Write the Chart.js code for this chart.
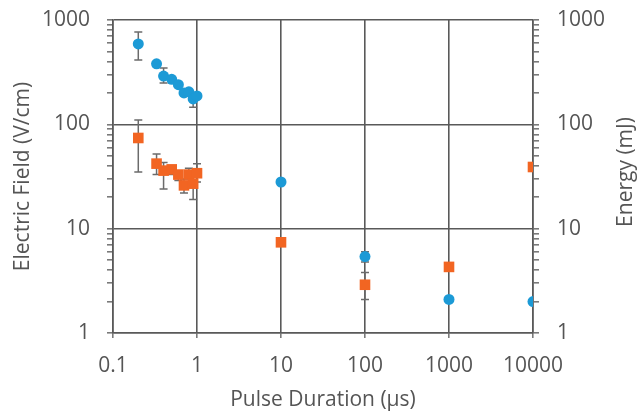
<!DOCTYPE html>
<html>
<head>
<meta charset="utf-8">
<script src="https://cdn.jsdelivr.net/npm/chart.js@4.4.0/dist/chart.umd.min.js"></script>
<style>
  html, body { margin: 0; padding: 0; background: #fff; }
  #wrap { width: 639px; height: 415px; }
</style>
</head>
<body>
<div id="wrap"><canvas id="chart" width="639" height="415"></canvas></div>
<script>
// ---- Data ----
const pulseUs    = [0.2, 0.33, 0.4, 0.5, 0.6, 0.7, 0.8, 0.9, 1, 10, 100, 1000, 10000];
const fieldVcm   = [590, 380, 290, 270, 240, 200, 205, 175, 187, 28, 5.4, 2.1, 2.0];
const fieldLow   = [414, null, 249, null, null, null, null, 146, null, null, 4.8, null, null];
const fieldHigh  = [769, null, 347, null, null, null, null, 200, null, null, 6.0, null, null];
const energyMJ   = [74, 42, 36, 37, 33, 26, 33, 27, 34, 7.4, 2.9, 4.3, 39];
const energyLow  = [35, 33, 24, 33, 29, 22, 27, 19, 28, null, 2.1, null, null];
const energyHigh = [110, 52, 43, 40, 36, 30, 38, 33, 42, null, 3.8, null, null];
const xTicks = [0.1, 1, 10, 100, 1000, 10000];

// ---- Styles ----
const TEXT = '#555555';
const GRID = '#595959';
const BLUE = '#1c9ad6';
const ORANGE = '#f26522';
const FONT = "'Open Sans', sans-serif";
const FS = 21;

const isDecade = (v) => Math.abs(Math.log10(v) - Math.round(Math.log10(v))) < 1e-6;

// log ticks 1..9 per decade, labels only on decades
function yTickList() {
    const out = [];
    for (let d = 0; d < 3; d++) {
        for (let m = 1; m < 10; m++) out.push({ value: m * Math.pow(10, d) });
    }
    out.push({ value: 1000 });
    return out;
}

const toPoints = (ys) => pulseUs.map((x, i) => ({ x, y: ys[i] }));

// ---- Error bars drawn under the markers ----
const errorBars = {
    id: 'errorBars',
    beforeDatasetsDraw(chart) {
        const { ctx } = chart;
        const xs = chart.scales.x;
        chart.data.datasets.forEach(ds => {
            const ys = chart.scales[ds.yAxisID];
            ctx.save();
            ctx.strokeStyle = '#6b6b6b';
            ctx.lineWidth = 1.5;
            ds.errLow.forEach((lo, i) => {
                const hi = ds.errHigh[i];
                if (lo == null || hi == null) return;
                const px = xs.getPixelForValue(pulseUs[i]);
                const p1 = ys.getPixelForValue(lo);
                const p2 = ys.getPixelForValue(hi);
                ctx.beginPath();
                ctx.moveTo(px, p1); ctx.lineTo(px, p2);
                ctx.moveTo(px - 4, p1); ctx.lineTo(px + 4, p1);
                ctx.moveTo(px - 4, p2); ctx.lineTo(px + 4, p2);
                ctx.stroke();
            });
            ctx.restore();
        });
    },
};

// ---- Right axis title (reads bottom to top, like the left one) ----
const rightTitle = {
    id: 'rightTitle',
    afterDraw(chart) {
        const { ctx } = chart;
        ctx.save();
        ctx.translate(626, 172);
        ctx.rotate(-Math.PI / 2);
        ctx.font = `${FS}px ${FONT}`;
        ctx.fillStyle = TEXT;
        ctx.textAlign = 'center';
        ctx.textBaseline = 'middle';
        ctx.fillText('Energy (mJ)', 0, 0);
        ctx.restore();
    },
};

function yAxis(position, width, pad) {
    return {
        type: 'logarithmic',
        position,
        min: 1,
        max: 1000,
        afterBuildTicks: (s) => { s.ticks = yTickList(); },
        afterFit: (s) => { s.width = width; s.paddingTop = 0; s.paddingBottom = 0; },
        ticks: {
            autoSkip: false,
            padding: pad,
            color: TEXT,
            font: { family: FONT, size: FS },
            callback: (v) => (isDecade(v) ? String(v) : ''),
        },
        grid: {
            drawOnChartArea: position === 'left',
            color: (c) => (c.tick && isDecade(c.tick.value) ? GRID : 'rgba(0,0,0,0)'),
            tickColor: '#7a7a7a',
            tickLength: 6,
            lineWidth: 1.6,
        },
        border: { color: GRID, width: 1.6 },
    };
}

new Chart(document.getElementById('chart'), {
    type: 'scatter',
    data: {
        datasets: [
            {
                label: 'Electric Field',
                data: toPoints(fieldVcm),
                yAxisID: 'y',
                errLow: fieldLow,
                errHigh: fieldHigh,
                pointStyle: 'circle',
                pointRadius: 5.5,
                backgroundColor: BLUE,
                borderColor: BLUE,
                borderWidth: 0,
            },
            {
                label: 'Energy',
                data: toPoints(energyMJ),
                yAxisID: 'y2',
                errLow: energyLow,
                errHigh: energyHigh,
                pointStyle: 'rect',
                pointRadius: 7.5,
                backgroundColor: ORANGE,
                borderColor: ORANGE,
                borderWidth: 0,
            },
        ],
    },
    options: {
        responsive: false,
        animation: false,
        devicePixelRatio: 1,
        layout: { padding: { top: 20, left: 0, right: 0, bottom: 0 } },
        plugins: {
            legend: { display: false },
            tooltip: { enabled: false },
        },
        scales: {
            x: {
                type: 'logarithmic',
                min: 0.1,
                max: 10000,
                afterBuildTicks: (s) => { s.ticks = xTicks.map(v => ({ value: v })); },
                afterFit: (s) => { s.height = 82; },
                ticks: {
                    autoSkip: false,
                    maxRotation: 0,
                    padding: 15,
                    color: TEXT,
                    font: { family: FONT, size: FS },
                    callback: (v) => String(v),
                },
                grid: { color: GRID, lineWidth: 1.6, tickLength: 5, tickColor: '#7a7a7a' },
                border: { color: GRID, width: 1.6 },
                title: {
                    display: true,
                    text: 'Pulse Duration (µs)',
                    color: TEXT,
                    font: { family: FONT, size: FS },
                    padding: { top: 2, bottom: 2 },
                },
            },
            y: {
                ...yAxis('left', 113, 17),
                title: {
                    display: true,
                    text: 'Electric Field (V/cm)',
                    color: TEXT,
                    font: { family: FONT, size: FS },
                    padding: { top: 10, bottom: 0 },
                },
            },
            y2: yAxis('right', 106, 18),
        },
    },
    plugins: [errorBars, rightTitle],
});
</script>
</body>
</html>
